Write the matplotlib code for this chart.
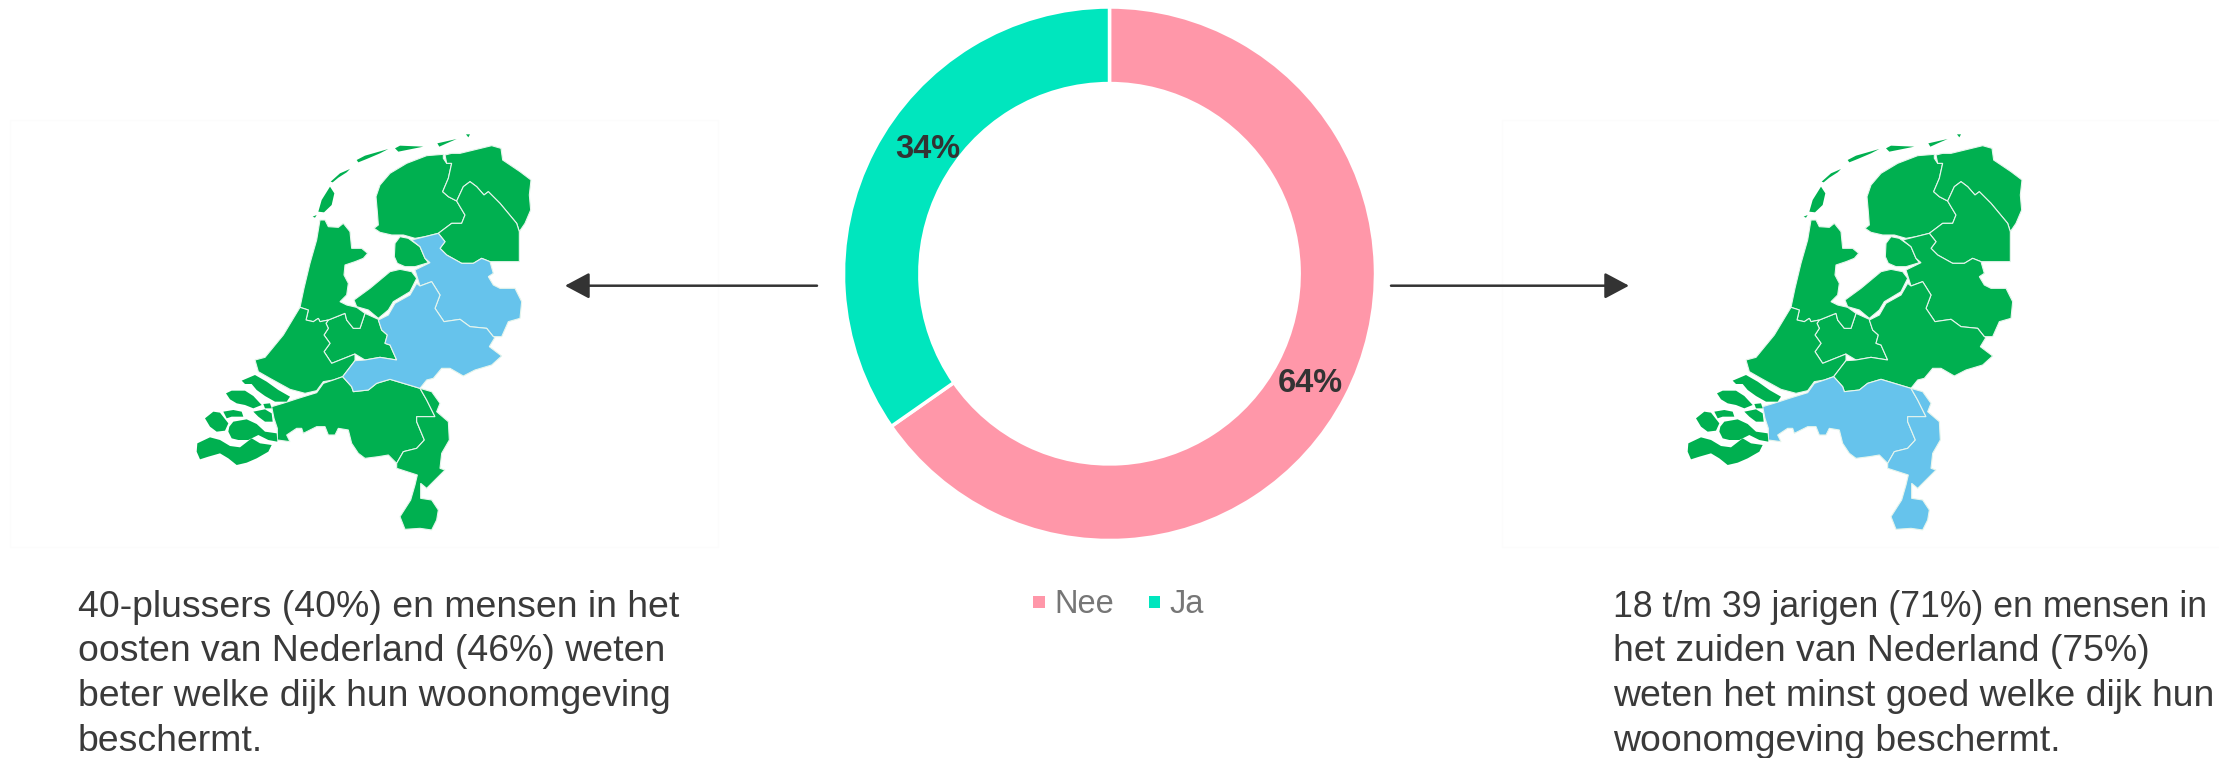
import matplotlib
matplotlib.use('Agg')
import matplotlib.pyplot as plt
from matplotlib.patches import Polygon, Rectangle

plt.rcParams['font.family'] = ['Liberation Sans', 'DejaVu Sans']

W, H = 2219, 758

# donut data
categories = ['Nee', 'Ja']
values = [64, 34]
value_labels = ['64%', '34%']
donut_colors = ['#FF97A9', '#00E6BE']

GREEN = '#00B050'
BLUE = '#66C3EC'

text_left = ['40-plussers (40%) en mensen in het',
             'oosten van Nederland (46%) weten',
             'beter welke dijk hun woonomgeving',
             'beschermt.']
text_right = ['18 t/m 39 jarigen (71%) en mensen in',
              'het zuiden van Nederland (75%)',
              'weten het minst goed welke dijk hun',
              'woonomgeving beschermt.']

# province outlines (units: 1/3 px)
friesland = [(820, 103), (770, 107), (710, 130), (660, 160), (630, 195), (618, 230), (622, 275),
             (625, 315), (612, 325), (630, 337), (665, 345), (700, 345), (735, 355), (765, 350),
             (805, 340), (845, 310), (875, 310), (885, 285), (870, 260), (860, 243), (835, 230),
             (818, 215), (835, 175), (845, 130), (830, 130), (820, 115)]
groningen = [(825, 105), (845, 100), (870, 100), (965, 77), (993, 85), (998, 120), (1050, 155),
             (1083, 180), (1078, 225), (1082, 270), (1065, 310), (1048, 335), (1040, 310), (990, 250),
             (955, 215), (942, 225), (920, 200), (900, 185), (880, 200), (860, 243), (835, 230),
             (818, 215), (835, 175), (845, 130), (830, 130)]
drenthe = [(860, 243), (880, 200), (900, 185), (920, 200), (942, 225), (955, 215), (990, 250),
           (1040, 310), (1048, 335), (1048, 425), (960, 425), (935, 415), (910, 430), (875, 430),
           (830, 405), (810, 385), (825, 365), (805, 340), (845, 310), (875, 310), (885, 285), (870, 260)]
overijssel = [(725, 360), (765, 350), (805, 340), (825, 365), (810, 385), (830, 405), (875, 430),
              (910, 430), (935, 415), (960, 425), (970, 460), (955, 470), (970, 495), (990, 505),
              (1035, 505), (1055, 545), (1050, 595), (1015, 605), (995, 650), (970, 650), (950, 625),
              (900, 620), (870, 598), (822, 605), (795, 565), (810, 525), (785, 485), (750, 498),
              (735, 450), (780, 428), (765, 415), (750, 380)]
gelderland = [(740, 490), (750, 498), (785, 485), (810, 525), (795, 565), (822, 605), (870, 598),
              (900, 620), (950, 625), (970, 650), (975, 652), (958, 680), (995, 708), (965, 735),
              (915, 750), (880, 768), (840, 745), (815, 745), (790, 775), (770, 780), (750, 805),
              (700, 790), (660, 778), (620, 790), (595, 810), (550, 815), (545, 800), (518, 770),
              (555, 722), (585, 720), (630, 712), (680, 720), (660, 675), (645, 670), (652, 645),
              (635, 630), (625, 600), (655, 585), (675, 550), (720, 525)]
utrecht = [(475, 600), (525, 580), (530, 600), (550, 625), (570, 625), (585, 580), (625, 598),
           (635, 630), (652, 645), (645, 670), (660, 675), (680, 720), (630, 712), (585, 720),
           (555, 702), (510, 720), (485, 730), (462, 695), (480, 670), (462, 645), (475, 625), (468, 610)]
noord_holland = [(450, 300), (465, 300), (475, 320), (505, 322), (520, 310), (540, 335), (545, 385),
                 (575, 385), (593, 400), (580, 415), (555, 425), (525, 435), (522, 465), (535, 490),
                 (530, 525), (510, 545), (530, 555), (560, 562), (585, 580), (570, 625), (550, 625),
                 (530, 600), (525, 580), (475, 600), (450, 605), (445, 595), (430, 605), (408, 600),
                 (415, 570), (390, 562), (402, 505), (420, 430), (440, 360)]
zuid_holland = [(390, 562), (415, 570), (408, 600), (430, 605), (445, 595), (450, 605), (475, 600),
                (468, 610), (475, 625), (462, 645), (480, 670), (462, 695), (485, 730), (510, 720),
                (555, 702), (555, 722), (518, 770), (490, 780), (460, 785), (440, 812), (405, 820),
                (360, 808), (300, 775), (265, 755), (255, 720), (285, 712), (340, 645)]
noordoostpolder = [(673, 410), (675, 370), (690, 350), (715, 355), (750, 380), (765, 415), (775, 428),
                   (735, 440), (705, 440), (682, 430)]
flevoland = [(552, 540), (600, 505), (660, 455), (690, 448), (725, 455), (740, 475), (720, 515),
             (670, 545), (655, 570), (625, 595), (595, 570), (560, 560)]
brabant = [(305, 860), (345, 848), (385, 835), (440, 818), (460, 790), (490, 780), (518, 770),
           (545, 800), (550, 815), (595, 810), (620, 790), (660, 778), (700, 790), (750, 805),
           (770, 840), (795, 890), (740, 890), (740, 905), (763, 960), (740, 985), (700, 995),
           (680, 1030), (655, 1005), (625, 1010), (585, 1015), (565, 1000), (545, 970), (535, 930),
           (505, 925), (495, 945), (475, 945), (465, 920), (440, 920), (400, 940), (395, 925),
           (380, 925), (350, 945), (360, 965), (322, 960), (322, 925), (312, 895)]
limburg = [(750, 805), (785, 815), (810, 850), (800, 875), (835, 905), (838, 960), (815, 1000),
           (810, 1045), (825, 1050), (800, 1075), (770, 1105), (752, 1090), (752, 1135),
           (785, 1140), (805, 1170), (800, 1200), (785, 1230), (750, 1225), (705, 1228),
           (690, 1190), (722, 1140), (735, 1095), (742, 1065), (680, 1045), (680, 1030), (700, 995),
           (740, 985), (763, 960), (740, 905), (740, 890), (795, 890), (770, 840)]
islands = [
    [(445, 275), (455, 240), (480, 200), (493, 220), (485, 255), (462, 277)],
    [(428, 290), (440, 285), (435, 293)],
    [(482, 185), (510, 160), (540, 147), (530, 157), (505, 173), (488, 187)],
    [(560, 120), (585, 107), (655, 87), (630, 100), (590, 117), (565, 127)],
    [(675, 85), (690, 77), (760, 80), (710, 90), (685, 95)],
    [(802, 70), (860, 57), (830, 70), (808, 80)],
    [(888, 43), (900, 43), (895, 52)],
]
zeeland = [
    [(215, 782), (255, 765), (290, 785), (325, 810), (360, 830), (350, 845), (315, 845), (285, 828),
     (260, 810), (245, 792), (225, 792)],
    [(168, 820), (185, 812), (225, 812), (250, 828), (275, 855), (250, 865), (225, 855), (200, 850),
     (180, 838)],
    [(280, 852), (300, 850), (305, 865), (285, 865)],
    [(105, 895), (130, 875), (150, 878), (175, 910), (165, 932), (140, 935), (120, 920)],
    [(160, 875), (190, 870), (215, 875), (220, 890), (185, 890), (170, 895)],
    [(250, 875), (285, 868), (305, 880), (308, 905), (285, 905), (265, 890)],
    [(178, 920), (190, 905), (230, 898), (260, 912), (285, 935), (320, 940), (322, 965), (295, 960),
     (265, 945), (235, 960), (205, 960), (185, 955), (175, 935)],
    [(82, 970), (120, 952), (150, 960), (180, 978), (210, 982), (245, 955), (270, 970), (305, 975),
     (295, 995), (260, 1015), (230, 1028), (200, 1035), (175, 1015), (150, 1000), (115, 1010),
     (90, 1018), (80, 995)],
]

provinces = [friesland, groningen, drenthe, utrecht, noord_holland, zuid_holland,
             noordoostpolder, flevoland, overijssel, gelderland, brabant, limburg]
coast_bits = islands + zeeland


def draw_map(ax, x0, y0, blue_regions):
    # blue ones last so their borders sit on top
    order = [p for p in provinces if p not in blue_regions] + blue_regions
    for poly in order:
        color = BLUE if poly in blue_regions else GREEN
        pts = [(x0 + x / 3, y0 + y / 3) for x, y in poly]
        ax.add_patch(Polygon(pts, closed=True, facecolor=color, edgecolor='#e6f5ec', lw=0.8, zorder=2))
    for poly in coast_bits:
        pts = [(x0 + x / 3, y0 + y / 3) for x, y in poly]
        ax.add_patch(Polygon(pts, closed=True, facecolor=GREEN, edgecolor='none', zorder=2))


def draw_arrow(ax, x_from, x_to, y):
    ax.annotate('', xy=(x_to, y), xytext=(x_from, y),
                arrowprops=dict(arrowstyle='-|>,head_length=0.75,head_width=0.4', color='#333333',
                                lw=1.8, shrinkA=0, shrinkB=0, mutation_scale=20))


fig = plt.figure(figsize=(W / 100, H / 100), dpi=100, facecolor='white')

# donut
ax_d = fig.add_axes([843.5 / W, 1 - 540.5 / H, 532 / W, 533.5 / H])
ax_d.pie(values, colors=donut_colors, startangle=90, counterclock=False, radius=1,
         wedgeprops=dict(width=0.287, edgecolor='white', linewidth=2.5))
ax_d.set_aspect('auto')
ax_d.set_xlim(-1, 1)
ax_d.set_ylim(-1, 1)

ax = fig.add_axes([0, 0, 1, 1])
ax.set_xlim(0, W)
ax.set_ylim(H, 0)
ax.axis('off')

# faint frames left behind by the pasted map images
ax.add_patch(Rectangle((10, 120), 708, 427, facecolor='none', edgecolor='#fcfcfc', lw=1))
ax.add_patch(Rectangle((1502, 120), 730, 427, facecolor='none', edgecolor='#fcfcfc', lw=1))

draw_map(ax, 170, 120, [overijssel, gelderland])
draw_map(ax, 1661, 120, [brabant, limburg])

draw_arrow(ax, 817, 565, 285.7)
draw_arrow(ax, 1391, 1629, 285.7)

ax.text(1310, 383, value_labels[0], ha='center', va='center', fontsize=23.5, fontweight='bold',
        color='#333333', zorder=5)
ax.text(928, 149, value_labels[1], ha='center', va='center', fontsize=23.5, fontweight='bold',
        color='#333333', zorder=5)

# legend
for name, color, sq_x, tx_x in zip(categories, donut_colors, [1033, 1148.5], [1054, 1169.5]):
    ax.add_patch(Rectangle((sq_x, 596), 11.5, 11.5, facecolor=color, edgecolor='none'))
    ax.text(tx_x, 613, name, ha='left', va='baseline', fontsize=23.5, color='#767676')

baselines = [617, 661, 706, 751]
for line, y in zip(text_left, baselines):
    ax.text(78, y, line, ha='left', va='baseline', fontsize=26.9, color='#3a3a3a')
# first right-hand line runs into the edge, so it gets a touch smaller
right_sizes = [25.7, 26.9, 26.9, 26.9]
for line, y, fs in zip(text_right, baselines, right_sizes):
    ax.text(1613, y, line, ha='left', va='baseline', fontsize=fs, color='#3a3a3a')

fig.savefig('out.png', dpi=100)
